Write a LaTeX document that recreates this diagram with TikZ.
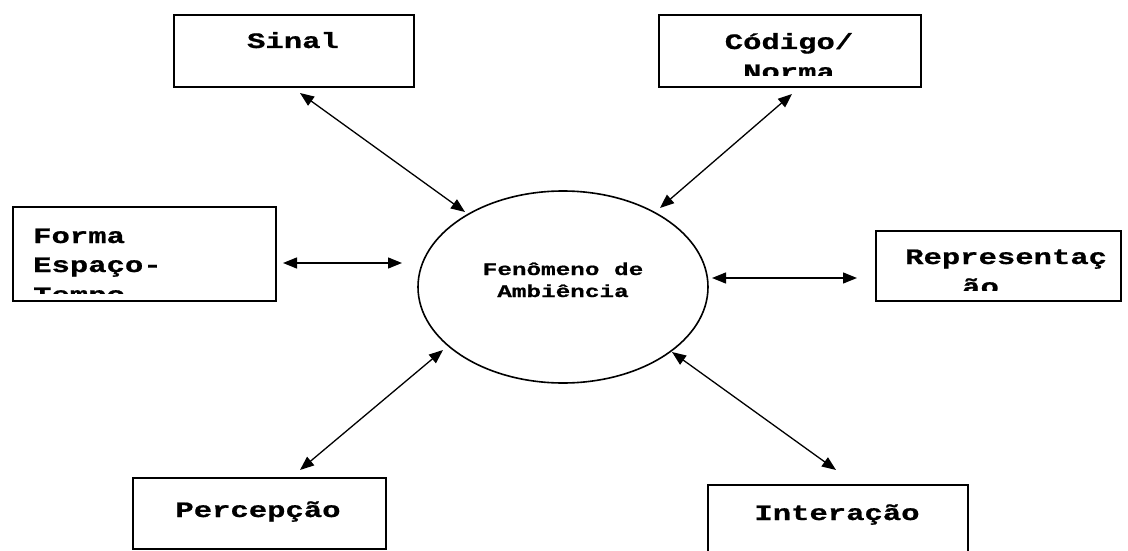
\documentclass[tikz,border=0pt]{standalone}
\usepackage{fontspec}
\usetikzlibrary{arrows.meta,shapes.geometric}
\newfontfamily\monofont[FakeStretch=1.39,FakeBold=0.8]{Liberation Mono}
\tikzset{
  box/.style={draw,line width=1.6pt,rectangle,anchor=north west,inner sep=0pt},
  boxtext/.style={font=\monofont\bfseries\fontsize{22}{30}\selectfont,inner sep=0pt},
  midtext/.style={font=\monofont\bfseries\fontsize{17.5}{22}\selectfont,inner sep=0pt,anchor=base},
  conn/.style={line width=1.3pt,{Triangle[length=14pt,width=11pt]}-{Triangle[length=14pt,width=11pt]}}
}
\begin{document}
\begin{tikzpicture}[x=1pt,y=-1pt]
  \useasboundingbox (0,0) rectangle (1128,551);
  \clip (0,0) rectangle (1128,551);
  % centre
  \node[draw,ellipse,line width=1.6pt,minimum width=290pt,minimum height=192pt] (fen) at (563,287) {};
  \node[midtext] (fen1) at (563,275) {Fenômeno de};
  \node[midtext] (fen2) at (563,297) {Ambiência};
  % boxes
  \node[box,minimum width=240pt,minimum height=72pt] (sinal) at (173,14) {};
  \node[box,minimum width=262pt,minimum height=72pt] (codigo) at (658,14) {};
  \node[box,minimum width=263pt,minimum height=94pt] (forma) at (12,206) {};
  \node[box,minimum width=245pt,minimum height=70pt] (repr) at (875,230) {};
  \node[box,minimum width=253pt,minimum height=71pt] (percep) at (132,477) {};
  \node[box,minimum width=260pt,minimum height=80pt] (inter) at (707,484) {};
  % box texts, cut at the inner margin
  \node[boxtext,anchor=base] (sinaltext) at (293,48) {Sinal};
  \begin{scope}
    \clip (codigo.north west) rectangle ([yshift=12pt]codigo.south east);
    \node[boxtext,anchor=base] (codigo1) at (789,49) {Código/};
    \node[boxtext,anchor=base] (codigo2) at (789,79) {Norma};
  \end{scope}
  \begin{scope}
    \clip (forma.north west) rectangle ([yshift=8pt]forma.south east);
    \node[boxtext,anchor=base west] (forma1) at (33,243) {Forma};
    \node[boxtext,anchor=base west] (forma2) at (33,272) {Espaço-};
    \node[boxtext,anchor=base west] (forma3) at (33,302) {Tempo};
  \end{scope}
  \begin{scope}
    \clip (repr.north west) rectangle ([yshift=11pt]repr.south east);
    \node[boxtext,anchor=base west] (repr1) at (905,264) {Representaç};
    \node[boxtext,anchor=base west] (repr2) at (962,294) {ão};
  \end{scope}
  \node[boxtext,anchor=base] (perceptext) at (258,517) {Percepção};
  \node[boxtext,anchor=base] (intertext) at (837,520) {Interação};
  % connector ends
  \coordinate (sinal-a) at (300,93);   \coordinate (sinal-b) at (465,212);
  \coordinate (codigo-a) at (792,94);  \coordinate (codigo-b) at (660,208);
  \coordinate (forma-a) at (283,263);  \coordinate (forma-b) at (402,263);
  \coordinate (repr-a) at (857,278);   \coordinate (repr-b) at (712,278);
  \coordinate (percep-a) at (300,470); \coordinate (percep-b) at (443,350);
  \coordinate (inter-a) at (836,470);  \coordinate (inter-b) at (672,352);
  \draw[conn] (sinal-a) -- (sinal-b);
  \draw[conn] (codigo-a) -- (codigo-b);
  \draw[conn] (forma-a) -- (forma-b);
  \draw[conn] (repr-a) -- (repr-b);
  \draw[conn] (percep-a) -- (percep-b);
  \draw[conn] (inter-a) -- (inter-b);
\end{tikzpicture}
\end{document}
